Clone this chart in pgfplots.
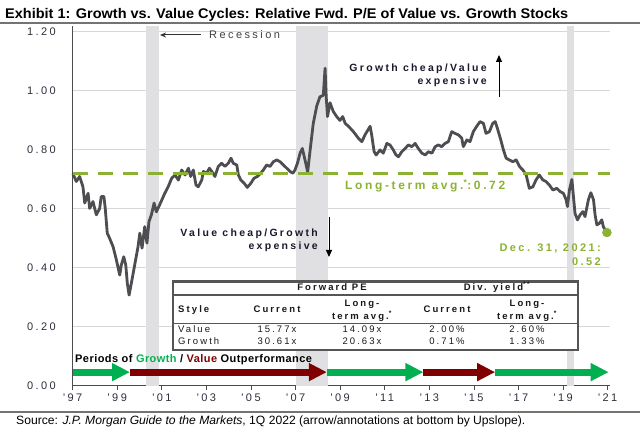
\documentclass[border=0pt]{standalone}
\usepackage{fontspec}
\setmainfont{Liberation Sans}
\usepackage{graphicx}
\usepackage{pgfplots}
\pgfplotsset{compat=1.18}
\usetikzlibrary{arrows.meta}
\newfontfamily\cf[LetterSpace=22]{Liberation Sans}
\newfontfamily\pf[LetterSpace=4]{Liberation Sans}
\definecolor{linec}{RGB}{77,77,82}
\definecolor{gridc}{RGB}{215,215,215}
\definecolor{recc}{RGB}{224,224,227}
\definecolor{avgc}{RGB}{140,178,52}
\definecolor{arrg}{RGB}{0,176,80}
\definecolor{arrr}{RGB}{128,0,0}
\definecolor{tickc}{RGB}{45,45,60}
\definecolor{tabc}{RGB}{85,85,85}
\definecolor{navy}{RGB}{25,25,45}
\pgfplotstableread{
x y
1997.01 0.720
1997.16 0.693
1997.31 0.710
1997.46 0.675
1997.54 0.620
1997.69 0.653
1997.76 0.602
1997.91 0.625
1998.06 0.580
1998.21 0.602
1998.28 0.642
1998.40 0.642
1998.46 0.602
1998.55 0.518
1998.66 0.500
1998.81 0.472
1998.96 0.427
1999.11 0.376
1999.18 0.410
1999.29 0.438
1999.38 0.410
1999.45 0.348
1999.53 0.308
1999.63 0.348
1999.78 0.410
1999.93 0.472
2000.01 0.518
2000.11 0.467
2000.23 0.540
2000.33 0.484
2000.42 0.557
2000.53 0.580
2000.65 0.620
2000.75 0.590
2000.90 0.614
2001.13 0.653
2001.28 0.675
2001.44 0.704
2001.59 0.715
2001.74 0.698
2001.89 0.732
2002.04 0.715
2002.19 0.738
2002.29 0.710
2002.41 0.732
2002.53 0.681
2002.63 0.675
2002.79 0.698
2002.86 0.727
2003.01 0.721
2003.13 0.738
2003.24 0.727
2003.38 0.710
2003.53 0.744
2003.68 0.755
2003.83 0.744
2003.98 0.755
2004.10 0.772
2004.20 0.755
2004.36 0.749
2004.43 0.715
2004.54 0.698
2004.69 0.687
2004.83 0.673
2004.99 0.687
2005.13 0.704
2005.28 0.710
2005.43 0.721
2005.55 0.732
2005.70 0.749
2005.85 0.744
2006.00 0.760
2006.15 0.766
2006.30 0.760
2006.45 0.749
2006.60 0.738
2006.75 0.727
2006.87 0.721
2006.97 0.732
2007.08 0.755
2007.20 0.789
2007.30 0.805
2007.42 0.766
2007.54 0.725
2007.65 0.800
2007.79 0.890
2007.95 0.950
2008.09 0.980
2008.24 0.985
2008.32 1.077
2008.37 0.980
2008.43 0.913
2008.54 0.960
2008.69 0.930
2008.84 0.913
2008.99 0.900
2009.11 0.913
2009.22 0.890
2009.37 0.880
2009.59 0.862
2009.81 0.840
2009.97 0.828
2010.11 0.851
2010.26 0.870
2010.34 0.880
2010.41 0.851
2010.52 0.794
2010.61 0.783
2010.79 0.800
2010.93 0.789
2011.09 0.822
2011.23 0.817
2011.38 0.800
2011.50 0.783
2011.61 0.777
2011.76 0.794
2011.91 0.805
2012.06 0.817
2012.21 0.811
2012.36 0.822
2012.50 0.805
2012.66 0.789
2012.81 0.783
2012.95 0.794
2013.11 0.789
2013.26 0.811
2013.40 0.817
2013.55 0.811
2013.70 0.822
2013.85 0.828
2014.00 0.862
2014.15 0.856
2014.30 0.851
2014.45 0.840
2014.52 0.811
2014.68 0.834
2014.82 0.828
2014.97 0.862
2015.12 0.880
2015.27 0.896
2015.42 0.890
2015.54 0.856
2015.69 0.862
2015.84 0.890
2015.95 0.896
2016.05 0.873
2016.20 0.834
2016.32 0.800
2016.44 0.772
2016.59 0.766
2016.74 0.760
2016.89 0.766
2017.04 0.744
2017.19 0.732
2017.34 0.715
2017.48 0.670
2017.64 0.675
2017.78 0.698
2017.93 0.715
2018.09 0.698
2018.23 0.693
2018.38 0.681
2018.54 0.664
2018.71 0.670
2018.86 0.659
2019.01 0.653
2019.13 0.631
2019.19 0.608
2019.28 0.664
2019.39 0.700
2019.46 0.642
2019.53 0.585
2019.64 0.563
2019.76 0.580
2019.88 0.591
2019.98 0.574
2020.13 0.631
2020.24 0.655
2020.36 0.631
2020.43 0.580
2020.51 0.546
2020.62 0.551
2020.73 0.563
2020.80 0.540
2020.96 0.520
}\ratio
\begin{document}
\begin{tikzpicture}[x=1bp,y=1bp]
\useasboundingbox (0,0) rectangle (640,433);
\begin{axis}[
  at={(72.7bp,47bp)}, anchor=south west,
  scale only axis, width=537.3bp, height=360bp,
  xmin=1997, xmax=2021.1, ymin=0, ymax=1.22,
  axis x line*=bottom, axis y line*=left,
  axis line style={draw=black!70, line width=1bp},
  xtick={1997,1999,2001,2003,2005,2007,2009,2011,2013,2015,2017,2019,2021},
  xticklabels={'97,'99,'01,'03,'05,'07,'09,'11,'13,'15,'17,'19,'21},
  ytick={0,0.2,0.4,0.6,0.8,1.0,1.2},
  yticklabels={0.00,0.20,0.40,0.60,0.80,1.00,1.20},
  ymajorgrids, grid style={draw=gridc, line width=1bp},
  ytick style={draw=none},
  xtick style={draw=black!70, line width=1bp},
  tick align=outside, major tick length=4.5bp,
  ticklabel style={font=\cf\fontsize{11bp}{13bp}\selectfont, text=tickc},
  yticklabel style={xshift=-9bp},
  clip=false,
]
% recession bands
\addplot[fill=recc, draw=none] coordinates {(2000.29,0) (2000.29,1.22) (2000.87,1.22) (2000.87,0)} -- cycle;
\addplot[fill=recc, draw=none] coordinates {(2007.02,0) (2007.02,1.22) (2008.47,1.22) (2008.47,0)} -- cycle;
\addplot[fill=recc, draw=none] coordinates {(2019.16,0) (2019.16,1.22) (2019.49,1.22) (2019.49,0)} -- cycle;
% data
\addplot[linec, line width=2.8bp, line join=round] table[x=x,y=y] {\ratio};
% long-term average
\addplot[avgc, line width=3.5bp, dash pattern=on 15bp off 10bp] coordinates {(1997,0.72) (2021.1,0.72)};
% end dot
\addplot[only marks, mark=*, mark size=4.5bp, avgc] coordinates {(2020.96,0.52)};
% outperformance arrows
\addplot[arrg, line width=7bp, -{Triangle[length=18bp,width=17bp]}] coordinates {(1997,0.047) (1999.57,0.047)};
\addplot[arrr, line width=7bp, -{Triangle[length=18bp,width=17bp]}] coordinates {(1999.57,0.047) (2008.40,0.047)};
\addplot[arrg, line width=7bp, -{Triangle[length=18bp,width=17bp]}] coordinates {(2008.40,0.047) (2012.73,0.047)};
\addplot[arrr, line width=7bp, -{Triangle[length=18bp,width=17bp]}] coordinates {(2012.73,0.047) (2015.95,0.047)};
\addplot[arrg, line width=7bp, -{Triangle[length=18bp,width=17bp]}] coordinates {(2015.95,0.047) (2021.04,0.047)};
\end{axis}
% title and rules
\node[anchor=base west, inner sep=0] at (5,414.5) {\resizebox{563bp}{\height}{\fontsize{14bp}{16bp}\selectfont\bfseries Exhibit 1: Growth vs. Value Cycles: Relative Fwd. P/E of Value vs. Growth Stocks}};
\draw[black!55, line width=1.2bp] (0,410) -- (640,410);
\draw[black!55, line width=1.2bp] (0,21) -- (640,21);
\node[anchor=base west, inner sep=0] at (16,8) {\resizebox{509bp}{\height}{\fontsize{12bp}{14bp}\selectfont Source: \textit{J.P. Morgan Guide to the Markets}, 1Q 2022 (arrow/annotations at bottom by Upslope).}};
% recession annotation
\draw[black!80, line width=1bp, -{Stealth[length=6bp,width=5bp]}] (201,398) -- (160,398);
\node[anchor=base west, inner sep=0, font=\cf\fontsize{11bp}{13bp}\selectfont, text=black!75] at (209,394) {Recession};
% growth cheap annotation
\node[anchor=base east, inner sep=0, font=\cf\bfseries\fontsize{10.5bp}{12bp}\selectfont, text=navy] at (487,361) {Growth cheap/Value};
\node[anchor=base east, inner sep=0, font=\cf\bfseries\fontsize{10.5bp}{12bp}\selectfont, text=navy] at (487,348) {expensive};
\draw[black, line width=1bp, -{Triangle[length=7bp,width=6bp]}] (499,336) -- (499,378);
% value cheap annotation
\node[anchor=base east, inner sep=0, font=\cf\bfseries\fontsize{10.5bp}{12bp}\selectfont, text=navy] at (318,196) {Value cheap/Growth};
\node[anchor=base east, inner sep=0, font=\cf\bfseries\fontsize{10.5bp}{12bp}\selectfont, text=navy] at (318,183) {expensive};
\draw[black, line width=1bp, -{Triangle[length=7bp,width=6bp]}] (329,216) -- (329,176);
% long-term avg label
\node[anchor=base west, inner sep=0, font=\cf\bfseries\fontsize{12bp}{14bp}\selectfont, text=avgc] at (345,243) {Long-term avg.\textsuperscript{*}:0.72};
\node[anchor=base east, inner sep=0, font=\cf\bfseries\fontsize{11bp}{13bp}\selectfont, text=avgc] at (601,181) {Dec. 31, 2021:};
\node[anchor=base east, inner sep=0, font=\cf\bfseries\fontsize{11bp}{13bp}\selectfont, text=avgc] at (601,167) {0.52};
% periods label
\node[anchor=base west, inner sep=0, font=\pf\bfseries\fontsize{11bp}{13bp}\selectfont] at (75,70) {Periods of \textcolor{arrg}{Growth} / \textcolor{arrr}{Value} Outperformance};
% table
\draw[tabc, line width=2.5bp, fill=white] (173,83) rectangle (578,151.3);
\draw[tabc, line width=1.2bp] (173,138) -- (578,138);
\draw[tabc, line width=1.2bp] (173,109.7) -- (578,109.7);
\begin{scope}[every node/.style={anchor=base, inner sep=0, text=black!90}]
\node[font=\cf\bfseries\fontsize{9.5bp}{11bp}\selectfont] at (332,142.6) {Forward PE};
\node[font=\cf\bfseries\fontsize{9.5bp}{11bp}\selectfont] at (497,142.6) {Div. yield\textsuperscript{**}};
\node[anchor=base west, font=\cf\bfseries\fontsize{9.5bp}{11bp}\selectfont] at (178,120.6) {Style};
\node[font=\cf\bfseries\fontsize{9.5bp}{11bp}\selectfont] at (277,120.6) {Current};
\node[font=\cf\bfseries\fontsize{9.5bp}{11bp}\selectfont] at (447,120.6) {Current};
\node[font=\cf\bfseries\fontsize{9.5bp}{11bp}\selectfont] at (362,126.6) {Long-};
\node[font=\cf\bfseries\fontsize{9.5bp}{11bp}\selectfont] at (362,113.6) {term avg.\textsuperscript{*}};
\node[font=\cf\bfseries\fontsize{9.5bp}{11bp}\selectfont] at (527,126.6) {Long-};
\node[font=\cf\bfseries\fontsize{9.5bp}{11bp}\selectfont] at (527,113.6) {term avg.\textsuperscript{*}};
\node[anchor=base west, font=\cf\fontsize{9.5bp}{11bp}\selectfont] at (178,100.6) {Value};
\node[anchor=base west, font=\cf\fontsize{9.5bp}{11bp}\selectfont] at (178,88.6) {Growth};
\node[font=\cf\fontsize{9.5bp}{11bp}\selectfont] at (277,100.6) {15.77x};
\node[font=\cf\fontsize{9.5bp}{11bp}\selectfont] at (362,100.6) {14.09x};
\node[font=\cf\fontsize{9.5bp}{11bp}\selectfont] at (447,100.6) {2.00\%};
\node[font=\cf\fontsize{9.5bp}{11bp}\selectfont] at (527,100.6) {2.60\%};
\node[font=\cf\fontsize{9.5bp}{11bp}\selectfont] at (277,88.6) {30.61x};
\node[font=\cf\fontsize{9.5bp}{11bp}\selectfont] at (362,88.6) {20.63x};
\node[font=\cf\fontsize{9.5bp}{11bp}\selectfont] at (447,88.6) {0.71\%};
\node[font=\cf\fontsize{9.5bp}{11bp}\selectfont] at (527,88.6) {1.33\%};
\end{scope}
\end{tikzpicture}
\end{document}
